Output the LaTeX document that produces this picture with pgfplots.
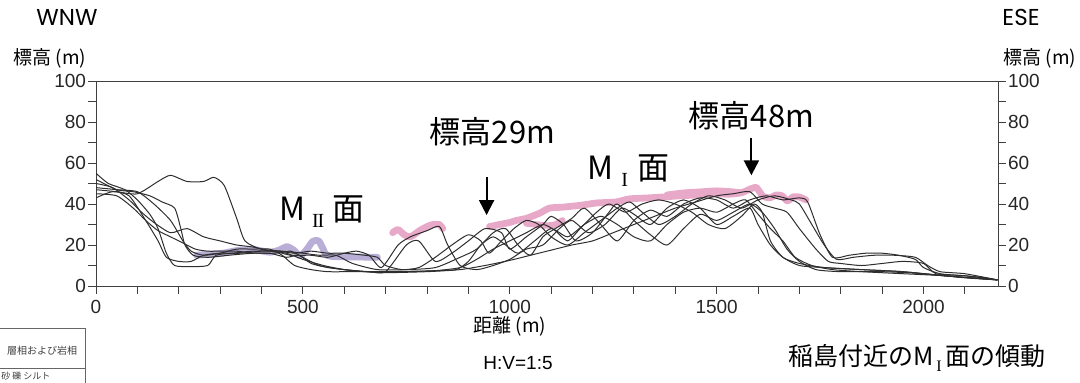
\documentclass[border=0pt]{standalone}
\usepackage{fontspec}
\setmainfont{Liberation Sans}
\newfontfamily\cjk{Noto Sans CJK JP}
\newfontfamily\geo{Poppins}
\newfontfamily\lser{Liberation Serif}
\usepackage{pgfplots}
\pgfplotsset{compat=1.18}
\usetikzlibrary{arrows.meta}
\definecolor{prof}{HTML}{2E2E2E}
\definecolor{pinkM}{HTML}{E8A9C9}
\definecolor{lavM}{HTML}{B8AED6}
\definecolor{axc}{HTML}{404040}
\newcommand{\rII}[1]{\raisebox{-0.45ex}{\lser\fontsize{#1}{#1}\selectfont I\kern-0.06em I}}
\newcommand{\rI}[1]{\raisebox{-0.45ex}{\lser\fontsize{#1}{#1}\selectfont I}}
\pgfplotsset{
  base/.style={
    at={(48pt,-143pt)}, anchor=south west, scale only axis,
    width=451pt, height=102.5pt,
    xmin=0, xmax=2180, ymin=0, ymax=100,
    axis line style={axc, line width=0.5pt},
    tick style={axc, line width=0.5pt},
    tick align=outside,
    major tick length=3.8pt, minor tick length=3.8pt,
    ytick={0,20,...,100}, minor ytick={10,30,...,90},
    ticklabel style={font=\fontsize{9.5}{10}\selectfont, text=black!85},
    /pgf/number format/assume math mode=true,
    /pgf/number format/1000 sep={},
    yticklabel style={inner sep=1pt},
  }
}
\begin{document}
\begin{tikzpicture}
\useasboundingbox (0pt,0pt) rectangle (540pt,-191pt);
% right-hand axis (labels on the right)
\begin{axis}[base, xtick=\empty, ytick pos=right, yticklabel pos=right]
\end{axis}
\begin{axis}[base,
  xtick={0,500,...,2000}, minor xtick={100,200,...,2100},
  xtick pos=bottom, ytick pos=left,
  every axis plot/.append style={line join=round, line cap=round}]
% Lavender M II surface
\addplot[lavM, line width=3.4pt, smooth, tension=0.5] coordinates {
(243,15) (275,15.5) (307,16) (348,17.5) (388,17.5) (420,16.5) (444,17.6) (461,19.2) (478,17.5) (493,14.8) (510,18) (524,21.8) (538,22) (548,18.5) (560,14.8) (606,14.2) (650,14.1) (680,14)};
% Pink M I surface
\addplot[pinkM, line width=3.4pt, smooth, tension=0.5] coordinates {
(717,26) (730,27.5) (745,25) (760,24) (782,27) (800,29) (814,30) (830,30) (838,28)};
\addplot[pinkM, line width=3.4pt, smooth, tension=0.4] coordinates {
(951,29) (975,30) (1000,31) (1016,32) (1040,33) (1072,35.5) (1096,38) (1130,38.5) (1176,39.5) (1210,40.5) (1257,41) (1289,42.5) (1337,43) (1369,43.4) (1410,44) (1450,44.4) (1490,45) (1531,44.8) (1560,45.5) (1580,47.2) (1596,48) (1611,44) (1628,43) (1644,44.4) (1658,44) (1671,41.5) (1685,43.5) (1700,43.4) (1716,42)};
\addplot[pinkM, line width=3.2pt, smooth, tension=0.4] coordinates {
(1040,30.5) (1065,30) (1090,29.5) (1110,30) (1127,32)};
\addplot[pinkM, line width=3.2pt, smooth, tension=0.4] coordinates {
(1380,44.5) (1420,45.5) (1460,46) (1500,46.5) (1540,46) (1560,45.5)};
% Black topographic profiles
\addplot[prof, line width=0.5pt, smooth, tension=0.4] coordinates {
(0,47) (50,46) (100,45) (150,51) (180,54) (220,51) (260,51) (285,53) (310,49) (340,33) (360,22) (400,18) (450,17) (500,16) (540,15) (580,15) (620,11) (680,8) (750,8) (820,9) (880,14) (920,18) (960,26) (990,28) (1020,20) (1050,15) (1080,24) (1110,28) (1150,33) (1180,38) (1220,30) (1260,22) (1300,32) (1340,37) (1380,34) (1420,40) (1460,43) (1500,42) (1540,38) (1580,42) (1620,44) (1660,42) (1700,43) (1720,41) (1750,25) (1780,14) (1820,15) (1860,16) (1900,16) (1940,15) (1980,13) (2000,9) (2040,6) (2100,5) (2150,4) (2178,3)};
\addplot[prof, line width=0.5pt, smooth, tension=0.4] coordinates {
(0,52) (50,47) (90,46) (130,44) (160,41) (190,38) (205,28) (215,20) (235,15) (270,14) (320,15) (380,16) (430,16) (470,17) (500,14) (540,10) (600,8) (660,7) (700,7) (750,20) (780,22) (820,12) (860,16) (900,22) (940,28) (980,26) (1000,18) (1040,24) (1080,30) (1100,34) (1130,30) (1160,22) (1200,26) (1240,36) (1260,40) (1300,32) (1340,25) (1380,20) (1420,28) (1460,35) (1500,32) (1540,36) (1580,40) (1610,36) (1640,28) (1670,18) (1700,12) (1740,8) (1800,7) (1900,7) (2000,6) (2100,4) (2178,3)};
\addplot[prof, line width=0.5pt, smooth, tension=0.4] coordinates {
(0,55) (30,50) (70,47) (100,42) (130,35) (150,28) (170,16) (190,10) (230,9.5) (270,10) (290,15) (330,16) (380,17) (430,17) (470,15) (520,15) (560,14) (600,16) (630,17) (660,15) (690,9) (730,20) (760,24) (800,27) (830,29) (850,20) (880,10) (920,8) (960,10) (1000,13) (1040,18) (1080,20) (1120,28) (1150,32) (1190,26) (1230,30) (1270,38) (1300,35) (1340,30) (1380,38) (1420,42) (1460,38) (1500,30) (1540,34) (1580,38) (1600,30) (1630,20) (1660,14) (1700,10) (1760,9) (1850,8) (1950,7) (2050,5) (2178,3)};
\addplot[prof, line width=0.5pt, smooth, tension=0.4] coordinates {
(0,50) (40,48) (80,42) (110,36) (140,31) (180,26) (220,28) (260,24) (300,22) (340,20) (380,19) (420,17) (460,16) (500,13) (550,10) (600,8) (650,7) (700,6.5) (800,7) (880,8) (940,10) (1000,12.5) (1050,15) (1100,17.5) (1150,20) (1200,22) (1250,26) (1300,30) (1350,34) (1400,38) (1450,41) (1500,44) (1540,45) (1580,46) (1610,40) (1640,38) (1670,36) (1700,28) (1740,18) (1770,12) (1800,11) (1850,10) (1900,11) (1950,12) (2000,11) (2030,6) (2100,5) (2178,3)};
\addplot[prof, line width=0.5pt, smooth, tension=0.4] coordinates {
(0,45) (50,44) (90,38) (120,32) (150,27) (180,24) (210,21) (240,18) (270,17) (300,17) (340,17) (380,16) (420,16) (460,14) (490,15) (520,11) (560,9) (600,8) (650,7) (700,7) (760,7) (820,7.5) (870,8) (900,12) (930,20) (960,24) (990,20) (1020,16) (1060,22) (1100,28) (1140,24) (1180,30) (1220,34) (1260,30) (1300,24) (1340,22) (1380,30) (1420,36) (1460,38) (1500,36) (1540,40) (1570,42) (1600,35) (1630,28) (1660,22) (1690,14) (1730,10) (1780,8) (1850,7) (1950,6) (2050,5) (2178,3)};
\addplot[prof, line width=0.5pt, smooth, tension=0.4] coordinates {
(0,43) (40,46) (80,44) (120,32) (150,22) (170,14) (200,12) (230,12) (260,15) (300,16) (350,16) (400,17) (440,17) (480,16) (520,17) (560,16) (600,16) (650,15) (680,14) (700,10) (740,8) (780,9) (820,14) (860,20) (900,25) (930,22) (950,16) (980,22) (1010,28) (1040,32) (1070,30) (1100,24) (1140,20) (1180,26) (1220,32) (1260,38) (1290,41) (1320,36) (1360,30) (1400,34) (1440,40) (1480,44) (1520,42) (1560,38) (1600,42) (1640,44) (1680,42) (1700,40) (1730,30) (1760,20) (1790,13) (1830,14) (1880,15) (1930,15) (1980,14) (2010,10) (2040,7) (2100,6) (2178,3)};
\addplot[prof, line width=0.5pt, smooth, tension=0.4] coordinates {
(0,48) (50,47) (100,46) (140,40) (180,32) (210,22) (230,17) (260,15) (300,16) (340,18) (380,18) (420,18) (450,15) (480,10) (520,8) (560,7) (620,7) (700,7) (760,7.2) (820,7.5) (880,9) (920,13) (960,18) (1000,22) (1040,26) (1080,30) (1110,27) (1140,22) (1170,28) (1210,36) (1240,40) (1280,36) (1320,40) (1360,42) (1400,40) (1440,36) (1480,30) (1520,28) (1560,34) (1590,40) (1610,36) (1630,22) (1660,14) (1700,11) (1760,9) (1850,8) (1950,7) (2050,5) (2178,3)};
% annotations
\node[anchor=base, font=\cjk\fontsize{16}{16}\selectfont] at (axis cs:546,32.2) {M\kern0.2em\rII{10}\kern0.25em 面};
\node[anchor=base, font=\cjk\fontsize{16}{16}\selectfont] at (axis cs:1287,52.2) {M\kern0.25em\rI{10}\kern0.3em 面};
\node[anchor=base, font=\cjk\fontsize{15.5}{16}\selectfont] at (axis cs:958,69.3) {標高29m};
\node[anchor=base, font=\cjk\fontsize{15.5}{16}\selectfont] at (axis cs:1584,77.1) {標高48m};
\draw[black, line width=1pt, -{Triangle[width=7.5pt,length=7.5pt]}] (axis cs:944,53) -- (axis cs:944,34.6);
\draw[black, line width=1pt, -{Triangle[width=7.5pt,length=7.5pt]}] (axis cs:1584,72) -- (axis cs:1584,54);
\end{axis}
% outer texts
\node[font=\geo\fontsize{11.5}{12}\selectfont] at (33.5pt,-8.5pt) {WNW};
\node[font=\geo\fontsize{11.5}{12}\selectfont] at (510.5pt,-8.5pt) {ESE};
\node[font=\cjk\fontsize{9.5}{10}\selectfont] at (25pt,-29pt) {標高 (m)};
\node[font=\cjk\fontsize{9.5}{10}\selectfont] at (520pt,-29pt) {標高 (m)};
\node[font=\cjk\fontsize{9.5}{10}\selectfont] at (255pt,-163pt) {距離 (m)};
\node[font=\fontsize{9.5}{10}\selectfont] at (259pt,-181.5pt) {H:V=1:5};
\node[font=\cjk\fontsize{12.5}{13}\selectfont] at (458.5pt,-179pt) {稲島付近のM\kern0.1em\rI{8}\kern0.15em 面の傾動};
% partial legend table at lower left
\draw[black!60, line width=0.4pt] (-1pt,-164pt) -- (42.5pt,-164pt) -- (42.5pt,-195pt);
\draw[black!60, line width=0.4pt] (-1pt,-184pt) -- (42.5pt,-184pt);
\node[font=\cjk\fontsize{5}{5}\selectfont, text=black!75] at (21pt,-175.5pt) {層相および岩相};
\node[anchor=west, inner sep=0pt, font=\cjk\fontsize{4.5}{4.5}\selectfont, text=black!75] at (0.5pt,-188pt) {砂 礫 シルト};
\end{tikzpicture}
\end{document}
